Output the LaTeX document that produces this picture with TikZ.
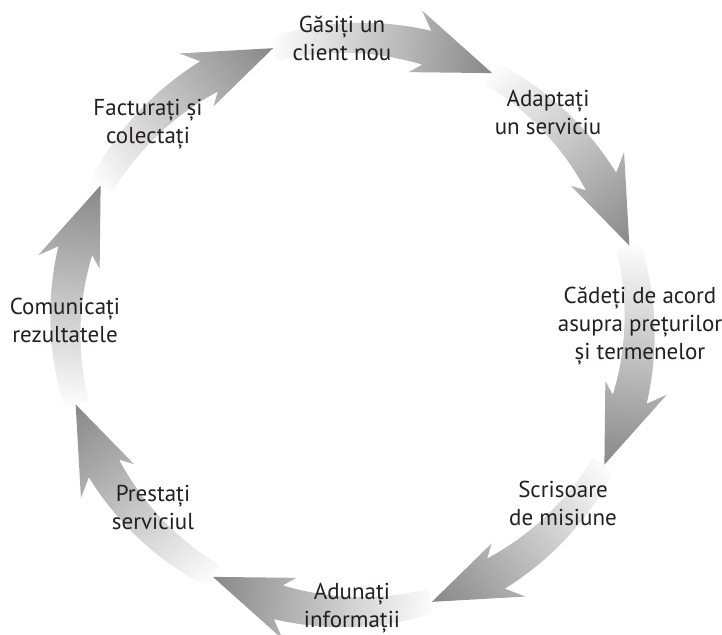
\documentclass[tikz,border=0pt]{standalone}
\usepackage{fontspec}
\setmainfont{PT Sans}
\usetikzlibrary{calc}
\definecolor{txt}{HTML}{231F20}
\begin{document}
\begin{tikzpicture}[x=1pt,y=1pt,
  lbl/.style={font=\fontsize{23}{28}\selectfont, text=txt, align=center, inner sep=0pt}]
\useasboundingbox (0,0) rectangle (722,634);
\def\R{287}
\def\cx{352.5}
\def\cy{309}
\foreach \k in {7,6,...,0}{
  \pgfmathsetmacro{\angT}{106-45*\k}
  \pgfmathsetmacro{\angN}{\angT+14}
  \pgfmathsetmacro{\angB}{\angT+16.5}
  \pgfmathsetmacro{\angZ}{\angT+45}
  \pgfmathsetmacro{\angA}{\angT-67.5}
  \coordinate (T0) at ({\cx+\R*cos(\angZ)},{\cy+\R*sin(\angZ)});
  \begin{scope}
    \clip plot[domain=0:1,samples=30] ({\cx+(\R+12.5+5*\x)*cos(\angZ-31*\x)},{\cy+(\R+12.5+5*\x)*sin(\angZ-31*\x)})
      -- ({\cx+(\R+35)*cos(\angB)},{\cy+(\R+35)*sin(\angB)})
      -- ({\cx+(\R+1)*cos(\angT)},{\cy+(\R+1)*sin(\angT)})
      -- ({\cx+(\R-28)*cos(\angB)},{\cy+(\R-28)*sin(\angB)})
      -- plot[domain=0:1,samples=30] ({\cx+(\R-17.5+5*\x)*cos(\angN+31*\x)},{\cy+(\R-17.5+5*\x)*sin(\angN+31*\x)})
      -- cycle;
    \shade[transform canvas={rotate around={\angA:(T0)}}, left color=white, middle color=black!22, right color=black!48]
      ($(T0)+(-6,-100)$) rectangle ($(T0)+(226,100)$);
  \end{scope}
}
\node[lbl] (l1) at (342,595.4) {Găsiți un\\client nou};
\node[lbl] (l2) at (548,521.7) {Adaptați\\un serviciu};
\node[lbl] (l3) at (640,308) {Cădeți de acord\\asupra prețurilor\\și termenelor};
\node[lbl] (l4) at (563,130.2) {Scrisoare\\de misiune};
\node[lbl] (l5) at (352,25.4) {Adunați\\informații};
\node[lbl] (l6) at (153,127) {Prestați\\serviciul};
\node[lbl] (l7) at (65,314) {Comunicați\\rezultatele};
\node[lbl] (l8) at (148,509.4) {Facturați și\\colectați};
\end{tikzpicture}
\end{document}
